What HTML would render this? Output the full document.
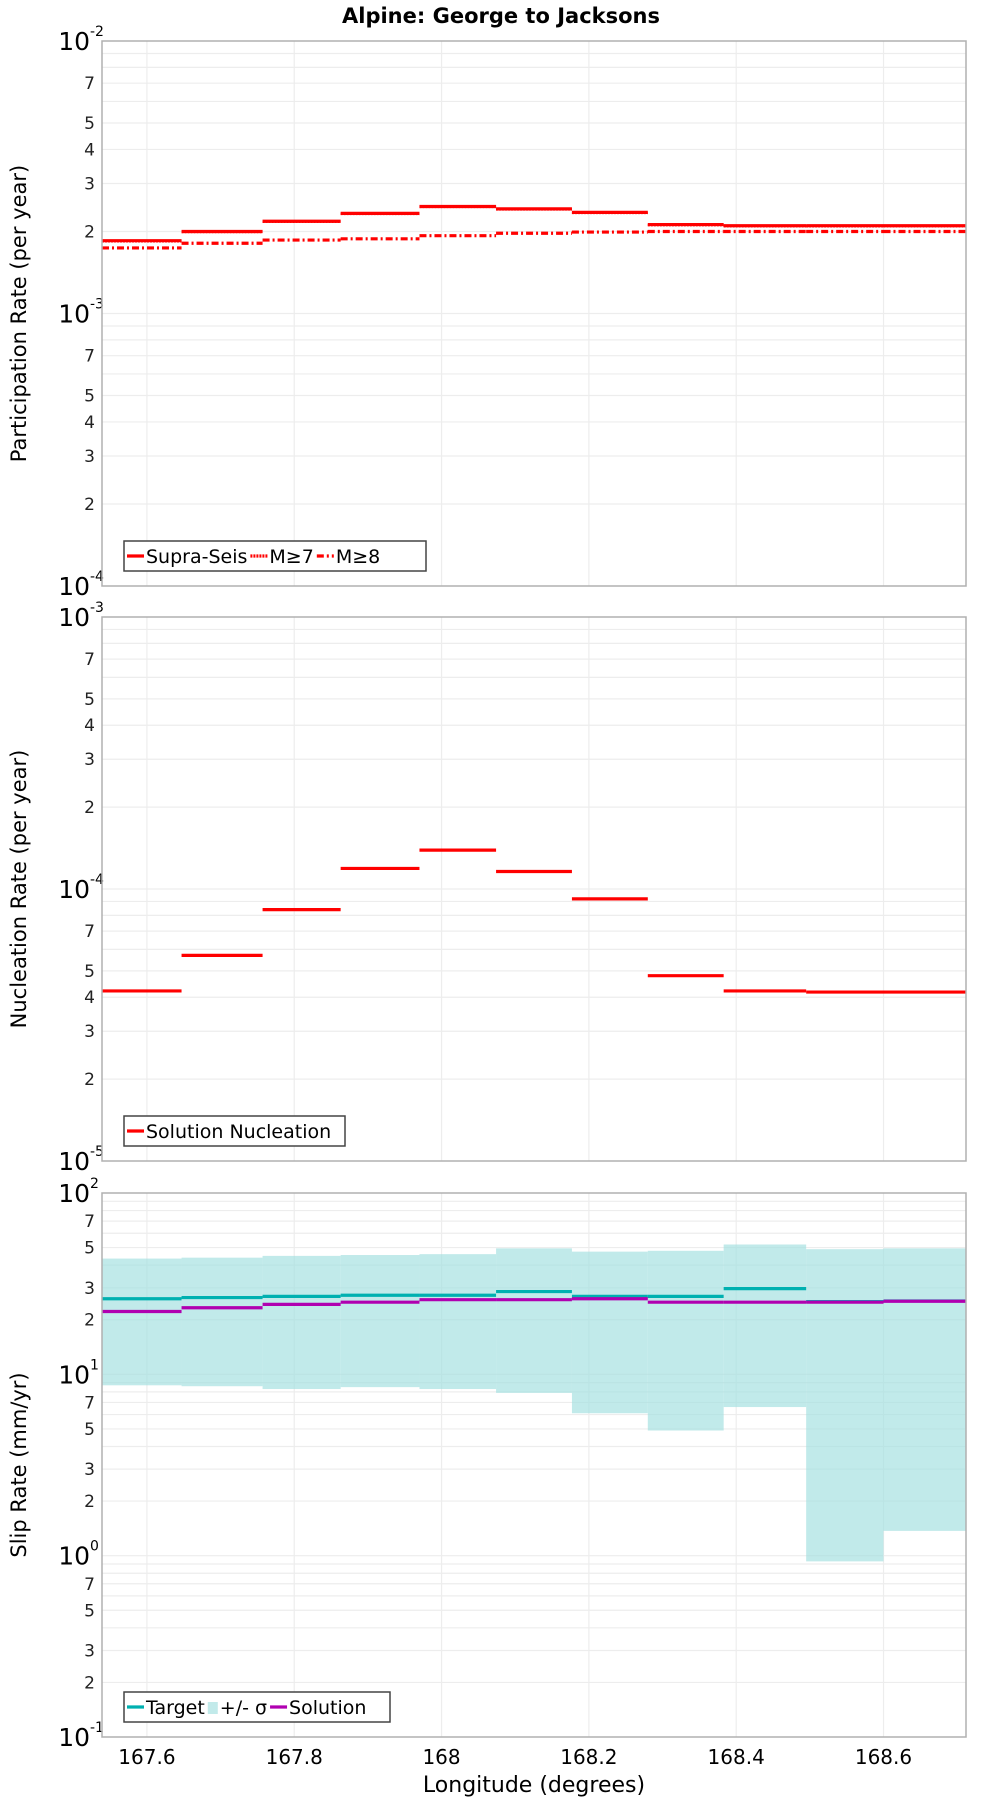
<!DOCTYPE html>
<html><head><meta charset="utf-8"><style>
body{margin:0;background:#fff;}
svg{display:block;font-family:"DejaVu Sans","Liberation Sans",sans-serif;}
</style></head><body>
<svg id="c" width="1000" height="1800" viewBox="0 0 1000 1800">
<text x="501" y="23" text-anchor="middle" font-size="21" font-weight="bold">Alpine: George to Jacksons</text>
<text x="534" y="1792" text-anchor="middle" font-size="22">Longitude (degrees)</text>
</svg>
<script>
const edges=[167.539,167.647,167.757,167.863,167.970,168.074,168.177,168.280,168.383,168.495,168.600,168.712];
const xTicks=[167.6,167.8,168,168.2,168.4,168.6];
const xTickLabels=["167.6","167.8","168","168.2","168.4","168.6"];
const supraSeis=[1.85e-3,2.0e-3,2.18e-3,2.33e-3,2.47e-3,2.42e-3,2.35e-3,2.12e-3,2.10e-3,2.10e-3,2.10e-3];
const m7=[1.84e-3,1.99e-3,2.17e-3,2.32e-3,2.46e-3,2.41e-3,2.34e-3,2.11e-3,2.09e-3,2.09e-3,2.09e-3];
const m8=[1.74e-3,1.81e-3,1.86e-3,1.88e-3,1.93e-3,1.97e-3,1.99e-3,2.0e-3,2.0e-3,2.0e-3,2.0e-3];
const nucleation=[4.22e-5,5.7e-5,8.4e-5,1.19e-4,1.39e-4,1.16e-4,9.2e-5,4.8e-5,4.22e-5,4.18e-5,4.18e-5];
const sigmaUpper=[43.5,44,45,45.5,46,49.5,47.5,48,52,49,49.5];
const sigmaLower=[8.7,8.6,8.3,8.5,8.3,7.9,6.1,4.9,6.6,0.93,1.37];
const target=[26.1,26.5,26.9,27.3,27.3,28.6,26.9,26.9,29.7,25.2,25.4];
const solution=[22.2,23.3,24.3,25,25.8,25.8,26.1,25,25,25,25.3];

const NS="http://www.w3.org/2000/svg";
const svg=document.getElementById('c');
const L=102,R=966;
function xs(v){return L+(v-edges[0])/(edges[edges.length-1]-edges[0])*(R-L);}
function mk(t,a,p){const e=document.createElementNS(NS,t);for(const k in a)e.setAttribute(k,a[k]);(p||svg).appendChild(e);return e;}

function panel(top,bot,lo,hi,minorLabels,title,name){
  const g=mk('g',{});
  
  
  const ys=v=>bot-(Math.log10(v)-lo)/(hi-lo)*(bot-top);
  for(let d=lo;d<hi;d++){for(let m=2;m<=9;m++){const y=ys(m*Math.pow(10,d));
    const gl=mk('line',{x1:L,x2:R,y1:y,y2:y,stroke:'#ededed','stroke-width':1.2},g);
    
    
    if(minorLabels.includes(m)){const t=mk('text',{x:95,y:y+6,'text-anchor':'end','font-size':17,fill:'#222'},g);t.textContent=m;
      
      }}}
  for(let d=lo;d<=hi;d++){const y=ys(Math.pow(10,d));
    if(d>lo&&d<hi){const gl=mk('line',{x1:L,x2:R,y1:y,y2:y,stroke:'#ededed','stroke-width':1.2},g);
      
      }
    const t=mk('text',{x:90,y:y+9,'text-anchor':'end','font-size':25,fill:'#000'},g);t.textContent='10';
    
    
    const s=mk('text',{x:90,y:y-5,'text-anchor':'start','font-size':14,fill:'#000'},g);s.textContent=String(d);
    
    }
  xTicks.forEach(v=>{const x=xs(v);const gl=mk('line',{x1:x,x2:x,y1:top,y2:bot,stroke:'#ededed','stroke-width':1.2},g);
    
    });
  const yt=mk('text',{transform:`translate(26,${(top+bot)/2}) rotate(-90)`,'text-anchor':'middle','font-size':21},g);
  yt.textContent=title;
  
  
  return {g,ys,top,bot};
}
function frame(p){const r=mk('rect',{x:L,y:p.top,width:R-L,height:p.bot-p.top,fill:'none',stroke:'#b0b0b0','stroke-width':1.5},p.g);
  
  }
function steps(p,arr,color,dash,name,w){
  for(let i=0;i<arr.length;i++){const y=p.ys(arr[i]);
    const l=mk('line',{x1:xs(edges[i]),x2:xs(edges[i+1]),y1:y,y2:y,stroke:color,'stroke-width':w||3.2},p.g);
    if(dash)l.setAttribute('stroke-dasharray',dash);
    
    }
}
function legend(p,x,y,w,items){
  const lg=mk('g',{},p.g);
  
  
  const r=mk('rect',{x:x,y:y,width:w,height:30,fill:'#fff',stroke:'#444','stroke-width':1.5},lg);
  
  
  let cx=x+3;
  items.forEach(it=>{
    if(it.fill){const s=mk('rect',{x:cx,y:y+10,width:10,height:12,fill:it.color},lg);cx+=12;
      
      }
    else{const s=mk('line',{x1:cx,x2:cx+17,y1:y+15,y2:y+15,stroke:it.color,'stroke-width':3.2},lg);
      if(it.dash)s.setAttribute('stroke-dasharray',it.dash);cx+=19;
      
      }
    const t=mk('text',{x:cx,y:y+22,'font-size':19},lg);t.textContent=it.label;
    
    
    cx+=t.getComputedTextLength()+3;
  });
}

const p1=panel(41,586,-4,-2,[2,3,4,5,7],'Participation Rate (per year)','participation-panel');
steps(p1,m8,'#ff0000','7,3,2,3','m8-line');
steps(p1,supraSeis,'#ff0000',null,'supra-seis-line');
steps(p1,m7,'#ff0000','2,1','m7-line',2.4);
frame(p1);
legend(p1,124,541,302,[{color:'#f00',label:'Supra-Seis'},{color:'#f00',dash:'2,1',label:'M≥7'},{color:'#f00',dash:'7,3,2,3',label:'M≥8'}]);

const p2=panel(617,1161,-5,-3,[2,3,4,5,7],'Nucleation Rate (per year)','nucleation-panel');
steps(p2,nucleation,'#ff0000',null,'nucleation-line');
frame(p2);
legend(p2,124,1116,221,[{color:'#f00',label:'Solution Nucleation'}]);

const p3=panel(1193,1737,-1,2,[2,3,5,7],'Slip Rate (mm/yr)','slip-panel');
for(let i=0;i<sigmaUpper.length;i++){const y1=p3.ys(sigmaUpper[i]),y2=p3.ys(sigmaLower[i]);
  const r=mk('rect',{x:xs(edges[i]),y:y1,width:xs(edges[i+1])-xs(edges[i]),height:y2-y1,fill:'#9fdfdf','fill-opacity':0.65},p3.g);
  
  }
steps(p3,target,'#00b0b0',null,'target-line');
steps(p3,solution,'#b000b0',null,'solution-line');
frame(p3);
legend(p3,124,1692,266,[{color:'#00b0b0',label:'Target'},{color:'#c2eaea',fill:true,label:'+/- σ'},{color:'#b000b0',label:'Solution'}]);

xTicks.forEach((v,i)=>{const t=mk('text',{x:xs(v),y:1764,'text-anchor':'middle','font-size':20});t.textContent=xTickLabels[i];
  
  });
</script>
</body></html>
